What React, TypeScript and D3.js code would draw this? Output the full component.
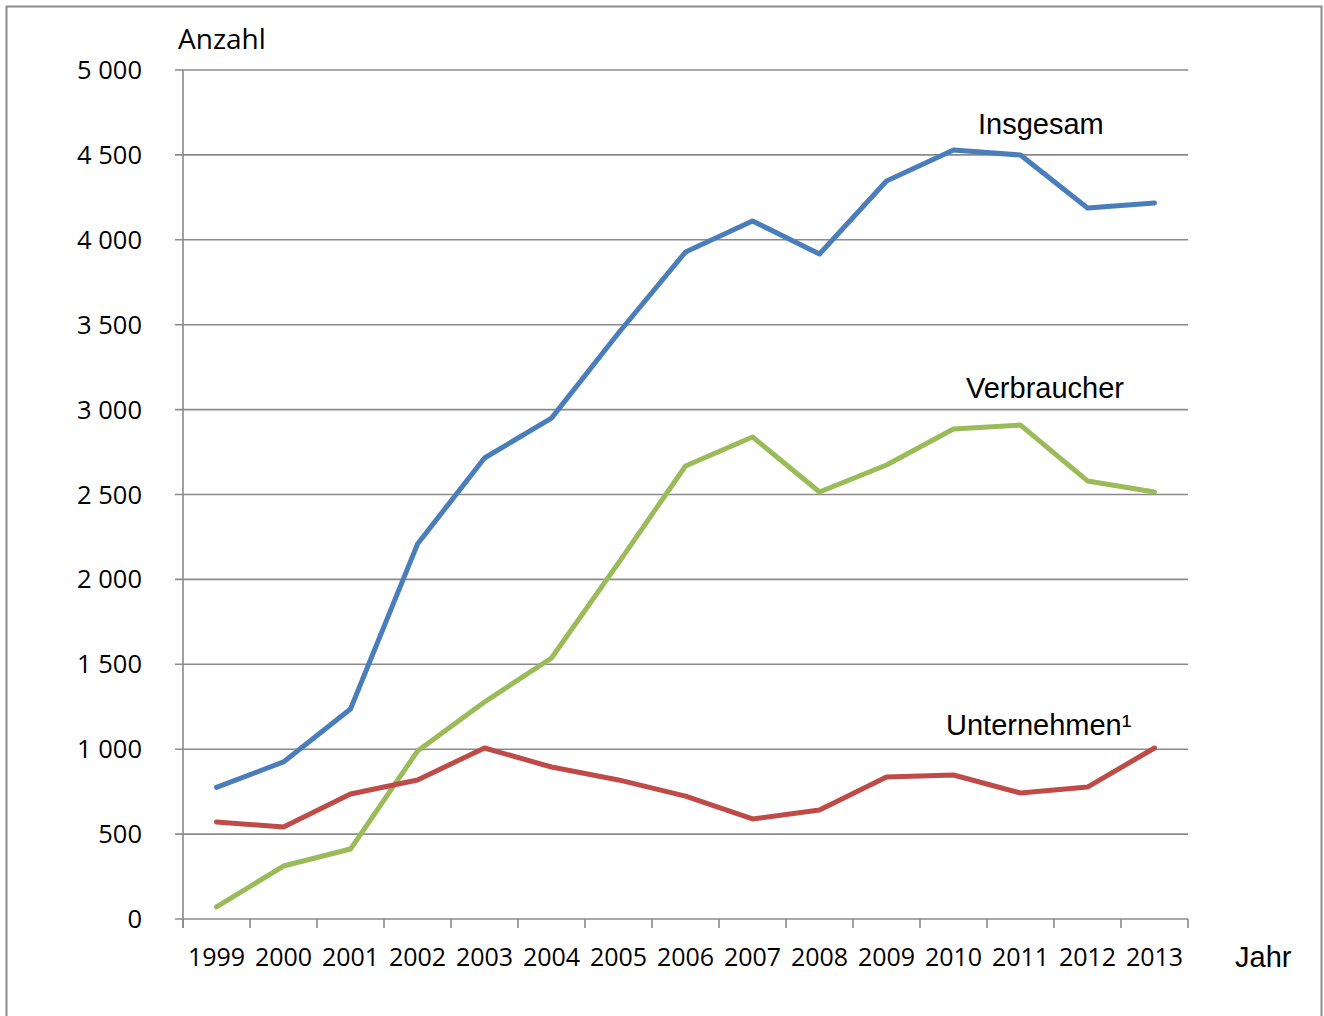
import React, { useEffect, useRef } from 'react';
import * as d3 from 'd3';

const years = ['1999', '2000', '2001', '2002', '2003', '2004', '2005', '2006', '2007', '2008', '2009', '2010', '2011', '2012', '2013'];
const insgesamt = [775, 925, 1237, 2208, 2715, 2950, 3451, 3928, 4111, 3916, 4346, 4529, 4499, 4187, 4217];
const verbraucher = [71, 312, 412, 989, 1278, 1537, 2097, 2668, 2839, 2515, 2674, 2886, 2909, 2580, 2515];
const unternehmen = [571, 542, 736, 819, 1007, 895, 819, 724, 589, 642, 836, 848, 742, 777, 1007];
const yTicks = [0, 500, 1000, 1500, 2000, 2500, 3000, 3500, 4000, 4500, 5000];

const W = 1324;
const H = 1016;

const App = () => {
  const svgRef = useRef<SVGSVGElement>(null);

  useEffect(() => {
    const svg = d3.select(svgRef.current);
    svg.selectAll('*').remove();

    const left = 183, right = 1188, top = 70, bottom = 919;
    const grid = '#8a8a8a';

    // Rahmen
    svg.append('rect')
      .attr('x', 6.5).attr('y', 6.5)
      .attr('width', 1315).attr('height', 1030)
      .attr('fill', '#fff').attr('stroke', '#8a8a8a').attr('stroke-width', 2);

    const x = d3.scaleBand().domain(years).range([left, right]);
    const y = d3.scaleLinear().domain([0, 5000]).range([bottom, top]);
    const cx = (d: string) => (x(d) as number) + x.bandwidth() / 2;

    const fmt = (v: number) => d3.format(',')(v).replace(/,/g, ' ');

    // Gitter + Y-Achse
    const gy = svg.append('g');
    gy.selectAll('line.grid')
      .data(yTicks)
      .enter()
      .append('line')
      .attr('x1', left - 8).attr('x2', right)
      .attr('y1', d => y(d)).attr('y2', d => y(d))
      .attr('stroke', grid).attr('stroke-width', 1.6);
    gy.selectAll('text')
      .data(yTicks)
      .enter()
      .append('text')
      .attr('x', 142).attr('y', d => y(d) + 9)
      .attr('text-anchor', 'end')
      .attr('font-family', 'Open Sans, sans-serif')
      .attr('font-size', 25.5)
      .attr('fill', '#000')
      .text(d => fmt(d));
    svg.append('line')
      .attr('x1', left).attr('x2', left)
      .attr('y1', top).attr('y2', bottom + 9)
      .attr('stroke', grid).attr('stroke-width', 1.6);

    // X-Achse
    const boundaries = years.map(d => x(d) as number).concat([right]);
    svg.selectAll('line.xt')
      .data(boundaries)
      .enter()
      .append('line')
      .attr('x1', d => d).attr('x2', d => d)
      .attr('y1', bottom).attr('y2', bottom + 9)
      .attr('stroke', grid).attr('stroke-width', 1.6);
    svg.selectAll('text.xl')
      .data(years)
      .enter()
      .append('text')
      .attr('x', d => cx(d)).attr('y', 966)
      .attr('text-anchor', 'middle')
      .attr('font-family', 'Open Sans, sans-serif')
      .attr('font-size', 25)
      .text(d => d);

    // Linien
    const series = [
      { values: insgesamt, color: '#4a7ebb' },
      { values: verbraucher, color: '#9bbb59' },
      { values: unternehmen, color: '#be4b48' },
    ];
    const line = d3.line<number>()
      .x((_, i) => cx(years[i]))
      .y(d => y(d));
    series.forEach(s => {
      svg.append('path')
        .attr('d', line(s.values))
        .attr('fill', 'none')
        .attr('stroke', s.color)
        .attr('stroke-width', 5)
        .attr('stroke-linejoin', 'round')
        .attr('stroke-linecap', 'round');
    });

    // Beschriftungen
    const label = (t: string, lx: number, ly: number, font: string, size: number) =>
      svg.append('text')
        .attr('x', lx).attr('y', ly)
        .attr('font-family', font)
        .attr('font-size', size)
        .attr('fill', '#000')
        .text(t);

    const arial = 'Liberation Sans, Arial, sans-serif';
    label('Anzahl', 178, 49, 'Open Sans, sans-serif', 28);
    label('Jahr', 1235, 967, arial, 29);
    label('Insgesam', 978, 134, arial, 29);
    label('Verbraucher', 966, 398, arial, 29);
    label('Unternehmen¹', 946, 735, arial, 29);
  }, []);

  return (
    <svg
      ref={svgRef}
      width={W}
      height={H}
      style={{ position: 'absolute', left: 0, top: 0, background: '#fff' }}
    />
  );
};

export default App;
